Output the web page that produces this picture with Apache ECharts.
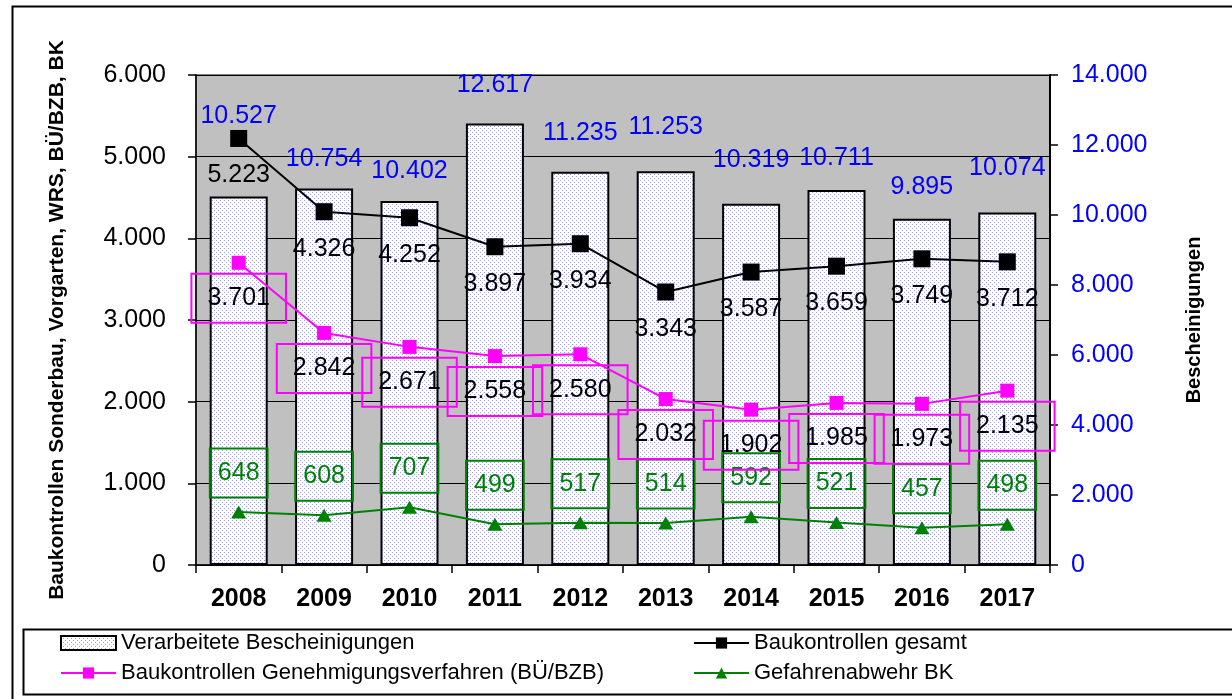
<!DOCTYPE html>
<html>
<head>
<meta charset="utf-8">
<script src="https://cdn.jsdelivr.net/npm/echarts@6/dist/echarts.min.js"></script>
<style>
  html, body { margin: 0; padding: 0; background: #fff; }
  #chart { width: 1232px; height: 699px; }
</style>
</head>
<body>
<div id="chart"></div>
<script>
var years = ['2008', '2009', '2010', '2011', '2012', '2013', '2014', '2015', '2016', '2017'];
var bescheinigungen = [10527, 10754, 10402, 12617, 11235, 11253, 10319, 10711, 9895, 10074];
var kontrollenGesamt = [5223, 4326, 4252, 3897, 3934, 3343, 3587, 3659, 3749, 3712];
var genehmigung = [3701, 2842, 2671, 2558, 2580, 2032, 1902, 1985, 1973, 2135];
var gefahrenabwehr = [648, 608, 707, 499, 517, 514, 592, 521, 457, 498];
var leftTicks = [0, 6000, 1000];
var rightTicks = [0, 14000, 2000];

// manual label nudges for the bar values (as in the original sheet)
var barLabelLift = [68, 17, 17, 26, 26, 32, 31, 20, 19, 32];

var FONT = 'Arial, "Liberation Sans", sans-serif';

function fmt(v) {
    return String(v).replace(/\B(?=(\d{3})+(?!\d))/g, '.');
}

// dotted fill for the bars
var pat = document.createElement('canvas');
pat.width = 4; pat.height = 4;
var pc = pat.getContext('2d');
pc.fillStyle = '#ffffff';
pc.fillRect(0, 0, 4, 4);
pc.fillStyle = '#9c9cff';
pc.fillRect(0, 0, 1, 1);
pc.fillRect(2, 2, 1, 1);
var barFill = { image: pat, repeat: 'repeat' };

var chart = echarts.init(document.getElementById('chart'));

var barData = bescheinigungen.map(function (v, i) {
    return { value: v, label: { distance: barLabelLift[i] } };
});

var legendBase = {
    top: 632, height: 120, orient: 'vertical', itemGap: 8,
    itemWidth: 55, itemHeight: 14, padding: 0,
    textStyle: { fontSize: 22, color: '#000', fontFamily: FONT }
};

var option = {
    animation: false,
    backgroundColor: '#ffffff',
    textStyle: { fontFamily: FONT },
    grid: {
        left: 196, right: 182, top: 75, bottom: 134,
        show: true, backgroundColor: '#C0C0C0',
        borderColor: '#808080', borderWidth: 2
    },
    graphic: [
        { type: 'rect', left: 10, top: 4, shape: { width: 1400, height: 900 },
          style: { fill: null, stroke: '#000', lineWidth: 2 }, silent: true },
        { type: 'rect', left: 21, top: 627, shape: { width: 1400, height: 65 },
          style: { fill: null, stroke: '#000', lineWidth: 2 }, silent: true }
    ],
    legend: [
        Object.assign({}, legendBase, {
            left: 60,
            data: [
                { name: 'Verarbeitete Bescheinigungen', icon: 'rect' },
                'Baukontrollen Genehmigungsverfahren (BÜ/BZB)'
            ]
        }),
        Object.assign({}, legendBase, {
            left: 693,
            data: ['Baukontrollen gesamt', 'Gefahrenabwehr BK']
        })
    ],
    xAxis: {
        type: 'category',
        data: years,
        boundaryGap: true,
        axisLine: { lineStyle: { color: '#000', width: 1.5 } },
        axisTick: { show: true, length: 8, lineStyle: { color: '#000', width: 1.5 } },
        axisLabel: { fontSize: 25, fontWeight: 'bold', color: '#000', margin: 22, fontFamily: FONT }
    },
    yAxis: [
        {
            type: 'value',
            min: leftTicks[0], max: leftTicks[1], interval: leftTicks[2],
            name: 'Baukontrollen Sonderbau, Vorgarten, WRS, BÜ/BZB, BK',
            nameLocation: 'middle', nameRotate: 90, nameGap: 128,
            nameTextStyle: { fontSize: 21, fontWeight: 'bold', color: '#000', fontFamily: FONT },
            axisLine: { show: true, lineStyle: { color: '#000', width: 1.5 } },
            axisTick: { show: true, length: 8, lineStyle: { color: '#000', width: 1.5 } },
            axisLabel: { fontSize: 25, color: '#000', margin: 30, formatter: fmt, fontFamily: FONT },
            splitLine: { show: true, lineStyle: { color: '#000', width: 1.2 } }
        },
        {
            type: 'value',
            position: 'right',
            min: rightTicks[0], max: rightTicks[1], interval: rightTicks[2],
            name: 'Bescheinigungen',
            nameLocation: 'middle', nameRotate: 90, nameGap: 134,
            nameTextStyle: { fontSize: 20, fontWeight: 'bold', color: '#000', fontFamily: FONT },
            axisLine: { show: true, lineStyle: { color: '#000', width: 2 } },
            axisTick: { show: true, length: 8, lineStyle: { color: '#000', width: 1.5 } },
            axisLabel: { fontSize: 25, color: '#0000FF', margin: 21, formatter: fmt, fontFamily: FONT },
            splitLine: { show: false }
        }
    ],
    series: [
        {
            name: 'Verarbeitete Bescheinigungen',
            type: 'bar',
            yAxisIndex: 1,
            barWidth: 58,
            data: barData,
            itemStyle: { color: barFill, borderColor: '#000', borderWidth: 2 },
            label: {
                show: true, position: 'top', fontSize: 25, color: '#0000FF',
                fontFamily: FONT, formatter: function (p) { return fmt(p.value); }
            },
            z: 2
        },
        {
            name: 'Baukontrollen gesamt',
            type: 'line',
            yAxisIndex: 0,
            data: kontrollenGesamt,
            symbol: 'rect', symbolSize: 17,
            lineStyle: { color: '#000', width: 2 },
            itemStyle: { color: '#000' },
            label: {
                show: true, position: 'bottom', distance: 16, fontSize: 25, color: '#000',
                fontFamily: FONT, formatter: function (p) { return fmt(p.value); }
            },
            z: 5
        },
        {
            name: 'Baukontrollen Genehmigungsverfahren (BÜ/BZB)',
            type: 'line',
            yAxisIndex: 0,
            data: genehmigung,
            symbol: 'rect', symbolSize: 14,
            lineStyle: { color: '#FF00FF', width: 2 },
            itemStyle: { color: '#FF00FF' },
            label: {
                show: true, position: 'bottom', distance: 4, fontSize: 25, color: '#000',
                fontFamily: FONT, borderColor: '#FF00FF', borderWidth: 2,
                padding: [12, 16, 12, 16],
                formatter: function (p) { return fmt(p.value); }
            },
            z: 4
        },
        {
            name: 'Gefahrenabwehr BK',
            type: 'line',
            yAxisIndex: 0,
            data: gefahrenabwehr,
            symbol: 'triangle', symbolSize: [15, 13],
            lineStyle: { color: '#008000', width: 2 },
            itemStyle: { color: '#008000' },
            label: {
                show: true, position: 'top', distance: 8, fontSize: 25, color: '#008000',
                fontFamily: FONT, borderColor: '#008000', borderWidth: 2,
                padding: [12, 8, 12, 8],
                formatter: function (p) { return fmt(p.value); }
            },
            z: 3
        }
    ]
};

chart.setOption(option);
</script>
</body>
</html>
